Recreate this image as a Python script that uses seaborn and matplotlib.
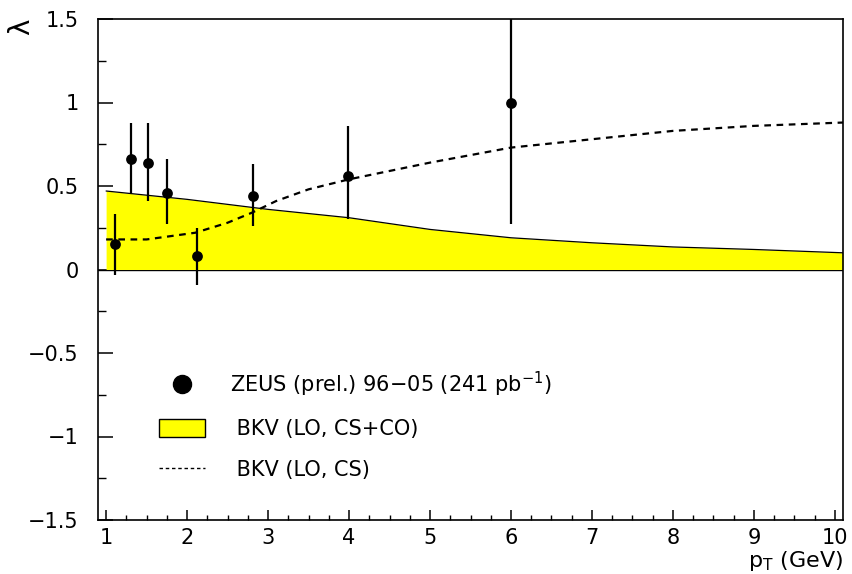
import numpy as np
import pandas as pd
import matplotlib
matplotlib.use("Agg")
import matplotlib.pyplot as plt
import seaborn as sns
from matplotlib.lines import Line2D
from matplotlib.patches import Patch
from matplotlib.ticker import MultipleLocator

# ZEUS data points
pt = [1.11, 1.31, 1.52, 1.75, 2.12, 2.81, 3.99, 6.00]
lam = [0.15, 0.66, 0.64, 0.46, 0.08, 0.44, 0.56, 1.00]
err_up = [0.18, 0.22, 0.24, 0.20, 0.17, 0.19, 0.30, 0.75]
err_dn = [0.18, 0.20, 0.23, 0.19, 0.17, 0.18, 0.26, 0.73]

# BKV (LO, CS+CO) band upper edge
band_x = [1.0, 2.0, 3.0, 4.0, 5.0, 6.0, 7.0, 8.0, 9.0, 10.1]
band_y = [0.47, 0.42, 0.36, 0.31, 0.24, 0.19, 0.16, 0.135, 0.12, 0.10]

# BKV (LO, CS) curve
cs_x = [1.0, 1.5, 2.1, 2.5, 2.8, 3.1, 3.5, 4.0, 4.4, 5.0, 6.0, 7.0, 8.0, 9.0, 10.1]
cs_y = [0.18, 0.18, 0.22, 0.28, 0.34, 0.41, 0.48, 0.54, 0.58, 0.64, 0.73, 0.78, 0.83, 0.86, 0.88]

x_ticks = [1, 2, 3, 4, 5, 6, 7, 8, 9, 10]
y_ticks = [-1.5, -1, -0.5, 0, 0.5, 1, 1.5]
y_ticklabels = ["\u22121.5", "\u22121", "\u22120.5", "0", "0.5", "1", "1.5"]

labels = ["ZEUS (prel.) 96\u221205 (241 pb$^{-1}$)", " BKV (LO, CS+CO)", " BKV (LO, CS)"]

sns.set_theme(style="white")
plt.rcParams['font.family'] = ['DejaVu Sans']
plt.rcParams['mathtext.default'] = 'regular'
for k in ['text.color', 'axes.labelcolor', 'xtick.color', 'ytick.color', 'axes.edgecolor']:
    plt.rcParams[k] = 'black'

fig = plt.figure(figsize=(8.53, 5.74), dpi=100)
ax = fig.add_axes([98/853, 1-520/574, 745/853, 501/574])

df_pts = pd.DataFrame({"pt": pt, "lam": lam})
df_band = pd.DataFrame({"x": band_x, "y": band_y})
df_cs = pd.DataFrame({"x": cs_x, "y": cs_y})

ax.axhline(0, color="black", lw=1.0, zorder=1)
ax.fill_between(df_band["x"], 0, df_band["y"], color="#FFFF00", lw=0, zorder=2)
sns.lineplot(data=df_band, x="x", y="y", ax=ax, color="black", lw=0.9, zorder=3)
sns.lineplot(data=df_cs, x="x", y="y", ax=ax, color="black", lw=1.6,
             linestyle=(0, (3.0, 2.5)), zorder=4)
ax.errorbar(pt, lam, yerr=[err_dn, err_up], fmt="none", ecolor="black",
            elinewidth=1.6, capsize=0, zorder=5)
sns.scatterplot(data=df_pts, x="pt", y="lam", ax=ax, color="black", s=60,
                edgecolor="black", linewidth=0, zorder=6)

ax.set_xlim(0.9, 10.1)
ax.set_ylim(-1.5, 1.5)
ax.set_xticks(x_ticks)
ax.set_xticklabels([str(v) for v in x_ticks])
ax.xaxis.set_minor_locator(MultipleLocator(0.25))
ax.set_yticks(y_ticks)
ax.set_yticklabels(y_ticklabels)
ax.yaxis.set_minor_locator(MultipleLocator(0.25))

ax.tick_params(axis="x", which="major", direction="in", length=7, width=1.1,
               labelsize=15, pad=6, bottom=True, top=False, color="black")
ax.tick_params(axis="x", which="minor", direction="in", length=3.6, width=1.0,
               bottom=True, top=False, color="black")
ax.tick_params(axis="y", which="major", direction="in", length=11, width=1.1,
               labelsize=15, pad=14, left=True, right=False, color="black")
ax.tick_params(axis="y", which="minor", direction="in", length=6, width=1.0,
               left=True, right=False, color="black")
for s in ax.spines.values():
    s.set_color("black")
    s.set_linewidth(1.2)

ax.set_xlabel(r"$p_{T}$ (GeV)", fontsize=16, loc="right")
ax.xaxis.set_label_coords(1.0, -0.058)
ax.set_ylabel("\u03bb", fontsize=20, loc="top")
ax.yaxis.set_label_coords(-0.085, 1.0)

handles = [
    Line2D([0], [0], marker="o", color="black", lw=0, markersize=13),
    Patch(facecolor="#FFFF00", edgecolor="black", linewidth=1.0),
    Line2D([0], [0], color="black", lw=1.0, linestyle=(0, (2.5, 2.0))),
]
leg = ax.legend(handles, labels, loc="upper left", bbox_to_anchor=(0.082, 0.30),
                frameon=False, fontsize=15, handlelength=2.2, handleheight=0.9,
                handletextpad=1.2, labelspacing=0.98, borderpad=0, borderaxespad=0)

fig.savefig("out.png", dpi=100, facecolor="white")
